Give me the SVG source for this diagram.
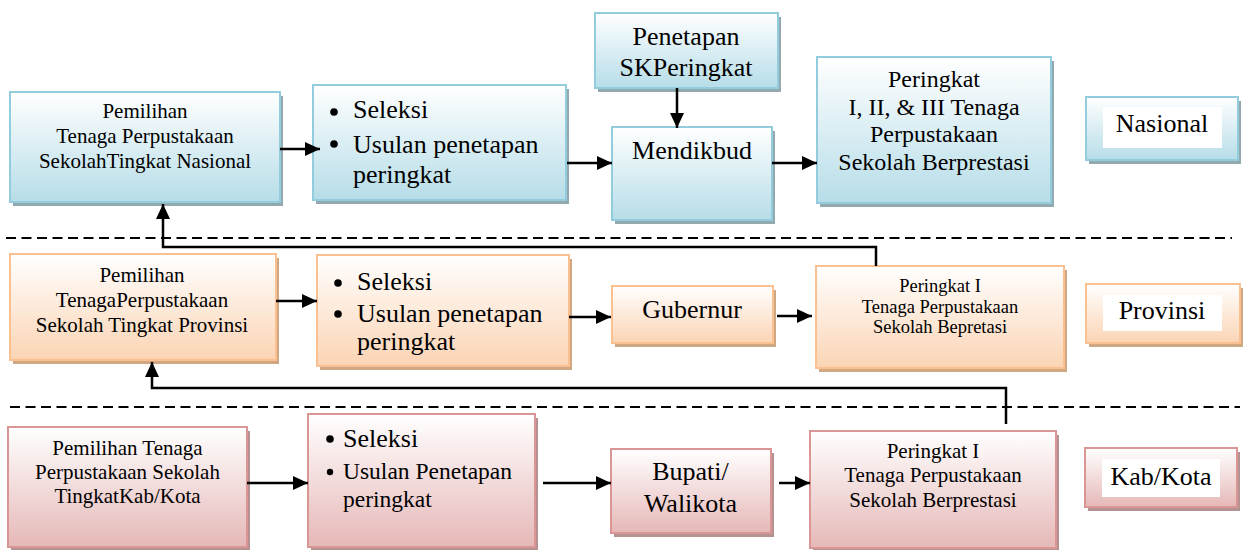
<svg xmlns="http://www.w3.org/2000/svg" width="1243" height="550" viewBox="0 0 1243 550" font-family="'Liberation Serif', 'Times New Roman', serif">
<defs>
<linearGradient id="gBlue" x1="0" y1="0" x2="0" y2="1"><stop offset="0" stop-color="#ffffff"/><stop offset="1" stop-color="#b6dde8"/></linearGradient>
<linearGradient id="gOrange" x1="0" y1="0" x2="0" y2="1"><stop offset="0" stop-color="#ffffff"/><stop offset="1" stop-color="#fbd4b4"/></linearGradient>
<linearGradient id="gPink" x1="0" y1="0" x2="0" y2="1"><stop offset="0" stop-color="#ffffff"/><stop offset="1" stop-color="#e5b8b7"/></linearGradient>
<marker id="arr" markerUnits="userSpaceOnUse" markerWidth="16" markerHeight="14" refX="15" refY="7" orient="auto"><path d="M0,0 L15,7 L0,14 z" fill="#000"/></marker>
</defs>
<style>
.blue .box{fill:url(#gBlue);stroke:#93cddd;stroke-width:2}
.blue .sh{fill:#93a9b0}
.orange .box{fill:url(#gOrange);stroke:#fac090;stroke-width:2}
.orange .sh{fill:#cfa783}
.pink .box{fill:url(#gPink);stroke:#d99694;stroke-width:2}
.pink .sh{fill:#b39291}
text{font-family:'Liberation Serif','Times New Roman',serif;fill:#000}
.c{text-anchor:middle}
.inner{fill:#ffffff}
.conn{fill:none;stroke:#000;stroke-width:2.5;marker-end:url(#arr)}
.dash{fill:none;stroke:#000;stroke-width:2;stroke-dasharray:10 5.5}
.f21{font-size:21px}.f26{font-size:26px}.f24{font-size:24px}.f18{font-size:18.5px}.f23{font-size:23.5px}
</style>

<g id="dividers">
<path class="dash" d="M6,238 H1232"/>
<path class="dash" d="M10,407 H1240"/>
</g>

<!-- Nasional row -->
<g id="nas-pemilihan" class="blue">
<rect class="sh" x="13" y="96" width="270" height="110"/>
<rect class="box" x="10" y="92" width="270" height="110"/>
<text class="c f21" x="145" y="118">Pemilihan</text>
<text class="c f21" x="145" y="143">Tenaga Perpustakaan</text>
<text class="c f21" x="145" y="168">SekolahTingkat Nasional</text>
</g>
<g id="nas-seleksi" class="blue">
<rect class="sh" x="316" y="89" width="253" height="115"/>
<rect class="box" x="313" y="85" width="253" height="115"/>
<circle cx="334" cy="112" r="3.8"/>
<circle cx="334" cy="144" r="3.8"/>
<text class="f26" x="353" y="118">Seleksi</text>
<text class="f26" x="353" y="153">Usulan penetapan</text>
<text class="f26" x="353" y="183">peringkat</text>
</g>
<g id="nas-sk" class="blue">
<rect class="sh" x="598" y="17" width="183" height="75"/>
<rect class="box" x="595" y="13" width="183" height="75"/>
<text class="c f26" x="686" y="45">Penetapan</text>
<text class="c f26" x="686" y="76">SKPeringkat</text>
</g>
<g id="nas-mendikbud" class="blue">
<rect class="sh" x="615" y="131" width="160" height="93"/>
<rect class="box" x="612" y="127" width="160" height="93"/>
<text class="c f26" x="692" y="159">Mendikbud</text>
</g>
<g id="nas-peringkat" class="blue">
<rect class="sh" x="820" y="61" width="234" height="146"/>
<rect class="box" x="817" y="57" width="234" height="146"/>
<text class="c f24" x="934" y="87">Peringkat</text>
<text class="c f24" x="934" y="114.5">I, II, &amp; III Tenaga</text>
<text class="c f24" x="934" y="142">Perpustakaan</text>
<text class="c f24" x="934" y="169.5">Sekolah Berprestasi</text>
</g>
<g id="label-nasional" class="blue">
<rect class="sh" x="1089" y="101" width="152" height="63"/>
<rect class="box" x="1086" y="97" width="152" height="63"/>
<rect class="inner" x="1103" y="107" width="119" height="41"/>
<text class="c f26" x="1162" y="132">Nasional</text>
</g>

<!-- Provinsi row -->
<g id="prov-pemilihan" class="orange">
<rect class="sh" x="13" y="258" width="266" height="106"/>
<rect class="box" x="10" y="254" width="266" height="106"/>
<text class="c f21" x="142" y="282">Pemilihan</text>
<text class="c f21" x="142" y="307">TenagaPerpustakaan</text>
<text class="c f21" x="142" y="332">Sekolah Tingkat Provinsi</text>
</g>
<g id="prov-seleksi" class="orange">
<rect class="sh" x="320" y="259" width="252" height="111"/>
<rect class="box" x="317" y="255" width="252" height="111"/>
<circle cx="338" cy="283" r="3.8"/>
<circle cx="338" cy="314" r="3.8"/>
<text class="f26" x="357" y="290">Seleksi</text>
<text class="f26" x="357" y="322">Usulan penetapan</text>
<text class="f26" x="357" y="350">peringkat</text>
</g>
<g id="prov-gubernur" class="orange">
<rect class="sh" x="615" y="290" width="161" height="57"/>
<rect class="box" x="612" y="286" width="161" height="57"/>
<text class="c f26" x="692" y="318">Gubernur</text>
</g>
<g id="prov-peringkat" class="orange">
<rect class="sh" x="819" y="270" width="248" height="102"/>
<rect class="box" x="816" y="266" width="248" height="102"/>
<text class="c f18" x="940" y="292">Peringkat I</text>
<text class="c f18" x="940" y="313">Tenaga Perpustakaan</text>
<text class="c f18" x="940" y="333">Sekolah Bepretasi</text>
</g>
<g id="label-provinsi" class="orange">
<rect class="sh" x="1089" y="288" width="154" height="59"/>
<rect class="box" x="1086" y="284" width="154" height="59"/>
<rect class="inner" x="1103" y="295" width="119" height="36"/>
<text class="c f26" x="1162" y="319">Provinsi</text>
</g>

<!-- Kab/Kota row -->
<g id="kab-pemilihan" class="pink">
<rect class="sh" x="11" y="431" width="239" height="120"/>
<rect class="box" x="8" y="427" width="239" height="120"/>
<text class="c f21" x="127.5" y="455">Pemilihan Tenaga</text>
<text class="c f21" x="127.5" y="479">Perpustakaan Sekolah</text>
<text class="c f21" x="127.5" y="503">TingkatKab/Kota</text>
</g>
<g id="kab-seleksi" class="pink">
<rect class="sh" x="311" y="418" width="227" height="133"/>
<rect class="box" x="308" y="414" width="227" height="133"/>
<circle cx="330" cy="439" r="3.8"/>
<circle cx="330" cy="472" r="3.2"/>
<text class="f26" x="343" y="447">Seleksi</text>
<text class="f23" x="343" y="479">Usulan Penetapan</text>
<text class="f23" x="343" y="507">peringkat</text>
</g>
<g id="kab-bupati" class="pink">
<rect class="sh" x="614" y="453" width="160" height="84"/>
<rect class="box" x="611" y="449" width="160" height="84"/>
<text class="c f26" x="690.5" y="480">Bupati/</text>
<text class="c f26" x="690.5" y="512">Walikota</text>
</g>
<g id="kab-peringkat" class="pink">
<rect class="sh" x="813" y="435" width="246" height="117"/>
<rect class="box" x="810" y="431" width="246" height="117"/>
<text class="c f21" x="933" y="458">Peringkat I</text>
<text class="c f21" x="933" y="482">Tenaga Perpustakaan</text>
<text class="c f21" x="933" y="507">Sekolah Berprestasi</text>
</g>
<g id="label-kabkota" class="pink">
<rect class="sh" x="1088" y="452" width="152" height="59"/>
<rect class="box" x="1085" y="448" width="152" height="59"/>
<rect class="inner" x="1102" y="459" width="118" height="38"/>
<text class="c f26" x="1161" y="485">Kab/Kota</text>
</g>

<g id="connectors">
<path class="conn" d="M280,149 H320"/>
<path class="conn" d="M567,163 H612"/>
<path class="conn" d="M677,88 V128"/>
<path class="conn" d="M772,163 H817"/>
<path class="conn" d="M876,266 V247 H163 V204"/>
<path class="conn" d="M276,301 H317"/>
<path class="conn" d="M569,317 H611"/>
<path class="conn" d="M777,316 H812"/>
<path class="conn" d="M1006,424 V388 H152 V362"/>
<path class="conn" d="M247,483 H308"/>
<path class="conn" d="M543,483 H611"/>
<path class="conn" d="M779,483 H810"/>
</g>
</svg>
